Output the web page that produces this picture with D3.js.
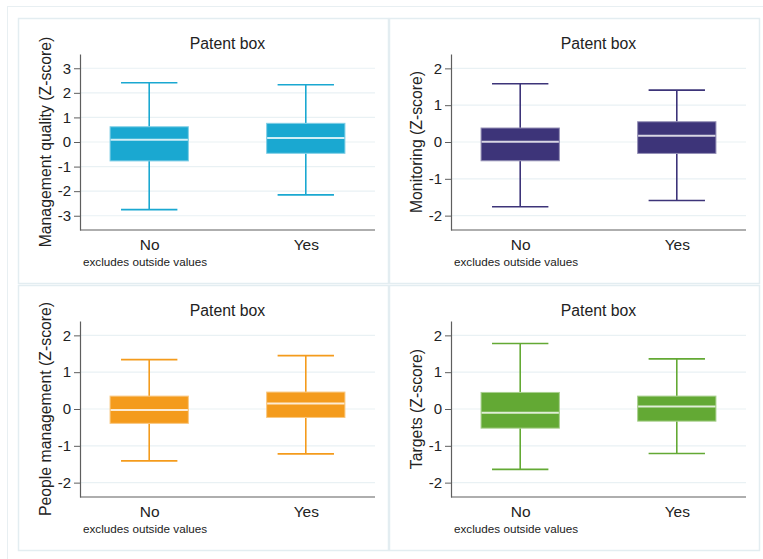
<!DOCTYPE html>
<html>
<head>
<meta charset="utf-8">
<script src="https://cdn.jsdelivr.net/npm/d3@7"></script>
<style>
  html, body { margin: 0; padding: 0; background: #fff; }
  svg { display: block; font-family: "Liberation Sans", Arial, sans-serif; }
</style>
</head>
<body>
<svg id="chart" width="763" height="559"></svg>
<script>
// Categories on the x axis of every panel
const groups = ["No", "Yes"];

// Panel titles and y-axis labels
const panelTitle = "Patent box";
const measures = [
  "Management quality (Z-score)",
  "Monitoring (Z-score)",
  "People management (Z-score)",
  "Targets (Z-score)"
];
const footNote = "excludes outside values";

// Box statistics per group: [lower whisker, Q1, median, Q3, upper whisker]
const mgmtBoxes       = [[-2.75, -0.77,  0.09, 0.62, 2.41], [-2.15, -0.46, 0.16, 0.76, 2.33]];
const monitoringBoxes = [[-1.76, -0.51,  0.01, 0.38, 1.58], [-1.59, -0.31, 0.17, 0.55, 1.41]];
const peopleBoxes     = [[-1.41, -0.39, -0.03, 0.35, 1.34], [-1.22, -0.23, 0.15, 0.46, 1.45]];
const targetsBoxes    = [[-1.64, -0.52, -0.10, 0.45, 1.78], [-1.21, -0.33, 0.07, 0.35, 1.36]];

// Y tick values
const ticksWide = [-3, -2, -1, 0, 1, 2, 3];
const ticksNarrow = [-2, -1, 0, 1, 2];

// Panel colours
const colors = ["#1aa8d1", "#3d3479", "#f49b1c", "#63a934"];

const panels = [
  { label: measures[0], boxes: mgmtBoxes,       ticks: ticksWide,   domain: [-3.58, 3.58], color: colors[0], x: 18,  y: 18 },
  { label: measures[1], boxes: monitoringBoxes, ticks: ticksNarrow, domain: [-2.39, 2.39], color: colors[1], x: 389, y: 18 },
  { label: measures[2], boxes: peopleBoxes,     ticks: ticksNarrow, domain: [-2.39, 2.39], color: colors[2], x: 18,  y: 285 },
  { label: measures[3], boxes: targetsBoxes,    ticks: ticksNarrow, domain: [-2.39, 2.39], color: colors[3], x: 389, y: 285 }
];

const svg = d3.select("#chart");

// Outer frame
svg.append("rect")
  .attr("x", 7.5).attr("y", 6.5)
  .attr("width", 800).attr("height", 800)
  .attr("fill", "none").attr("stroke", "#e8eff2").attr("stroke-width", 1);

const panelW = 370, panelH = 265;
const plot = { left: 62, right: 357, top: 36, bottom: 212 };

panels.forEach(p => {
  const g = svg.append("g").attr("transform", `translate(${p.x},${p.y})`);

  g.append("rect")
    .attr("x", 0.5).attr("y", 0.5)
    .attr("width", panelW).attr("height", panelH)
    .attr("fill", "#fff").attr("stroke", "#e3edf1").attr("stroke-width", 1.5);

  const y = d3.scaleLinear().domain(p.domain).range([plot.bottom, plot.top]);
  const x = d3.scalePoint().domain(groups).range([plot.left, plot.right]).padding(0.442);
  const step = x.step();
  const boxW = step * 0.5;
  const capW = step * 0.36;

  // Horizontal gridlines
  g.append("g").selectAll("line").data(p.ticks).join("line")
    .attr("x1", plot.left).attr("x2", plot.right)
    .attr("y1", d => y(d)).attr("y2", d => y(d))
    .attr("stroke", "#e9f1f4").attr("stroke-width", 1.2);

  // Y axis
  const yAxis = g.append("g")
    .attr("transform", `translate(${plot.left},0)`)
    .call(d3.axisLeft(y).tickValues(p.ticks).tickSize(6).tickPadding(3).tickSizeOuter(0)
      .tickFormat(d => d3.format("d")(d).replace("−", "-")));
  yAxis.select(".domain").attr("stroke", "#5e5e5e").attr("stroke-width", 1.2);
  yAxis.selectAll(".tick line").attr("stroke", "#5e5e5e").attr("stroke-width", 1);
  yAxis.selectAll(".tick text")
    .attr("fill", "#222").style("font-size", "15px")
    .style("font-family", "'Liberation Sans', Arial, sans-serif");

  // X axis baseline
  const xAxis = g.append("g")
    .attr("transform", `translate(0,${plot.bottom})`)
    .call(d3.axisBottom(x).tickSize(0).tickPadding(9));
  xAxis.select(".domain").attr("stroke", "#5e5e5e").attr("stroke-width", 1.2)
    .attr("d", `M${plot.left},0H${plot.right}`);
  xAxis.selectAll(".tick text")
    .attr("fill", "#222").style("font-size", "15.5px")
    .style("font-family", "'Liberation Sans', Arial, sans-serif");

  // Title
  g.append("text")
    .attr("x", (plot.left + plot.right) / 2).attr("y", 31)
    .attr("text-anchor", "middle").attr("fill", "#222")
    .style("font-size", "15.8px").text(panelTitle);

  // Y label
  g.append("text")
    .attr("transform", `translate(27,${(plot.top + plot.bottom) / 2}) rotate(-90)`)
    .attr("text-anchor", "middle").attr("dominant-baseline", "central")
    .attr("fill", "#222").style("font-size", "15.8px").text(p.label);

  // Note under the axis
  g.append("text")
    .attr("x", plot.left + 3).attr("y", 248)
    .attr("fill", "#222").style("font-size", "11.7px").text(footNote);

  const light = d3.interpolateRgb(p.color, "#ffffff")(0.45);
  const medianCol = d3.interpolateRgb(p.color, "#ffffff")(0.8);

  const bx = g.append("g").selectAll("g").data(p.boxes).join("g");

  // Whiskers
  bx.append("line")
    .attr("x1", (d, i) => x(groups[i])).attr("x2", (d, i) => x(groups[i]))
    .attr("y1", d => y(d[4])).attr("y2", d => y(d[3]))
    .attr("stroke", p.color).attr("stroke-width", 1.6);
  bx.append("line")
    .attr("x1", (d, i) => x(groups[i])).attr("x2", (d, i) => x(groups[i]))
    .attr("y1", d => y(d[1])).attr("y2", d => y(d[0]))
    .attr("stroke", p.color).attr("stroke-width", 1.6);
  // Caps
  [0, 4].forEach(k => {
    bx.append("line")
      .attr("x1", (d, i) => x(groups[i]) - capW / 2).attr("x2", (d, i) => x(groups[i]) + capW / 2)
      .attr("y1", d => y(d[k])).attr("y2", d => y(d[k]))
      .attr("stroke", p.color).attr("stroke-width", 1.6);
  });
  // Boxes
  bx.append("rect")
    .attr("x", (d, i) => x(groups[i]) - boxW / 2)
    .attr("y", d => y(d[3]))
    .attr("width", boxW)
    .attr("height", d => y(d[1]) - y(d[3]))
    .attr("fill", p.color).attr("stroke", light).attr("stroke-width", 1);
  // Medians
  bx.append("line")
    .attr("x1", (d, i) => x(groups[i]) - boxW / 2 + 0.5).attr("x2", (d, i) => x(groups[i]) + boxW / 2 - 0.5)
    .attr("y1", d => y(d[2])).attr("y2", d => y(d[2]))
    .attr("stroke", medianCol).attr("stroke-width", 2);
});
</script>
</body>
</html>
